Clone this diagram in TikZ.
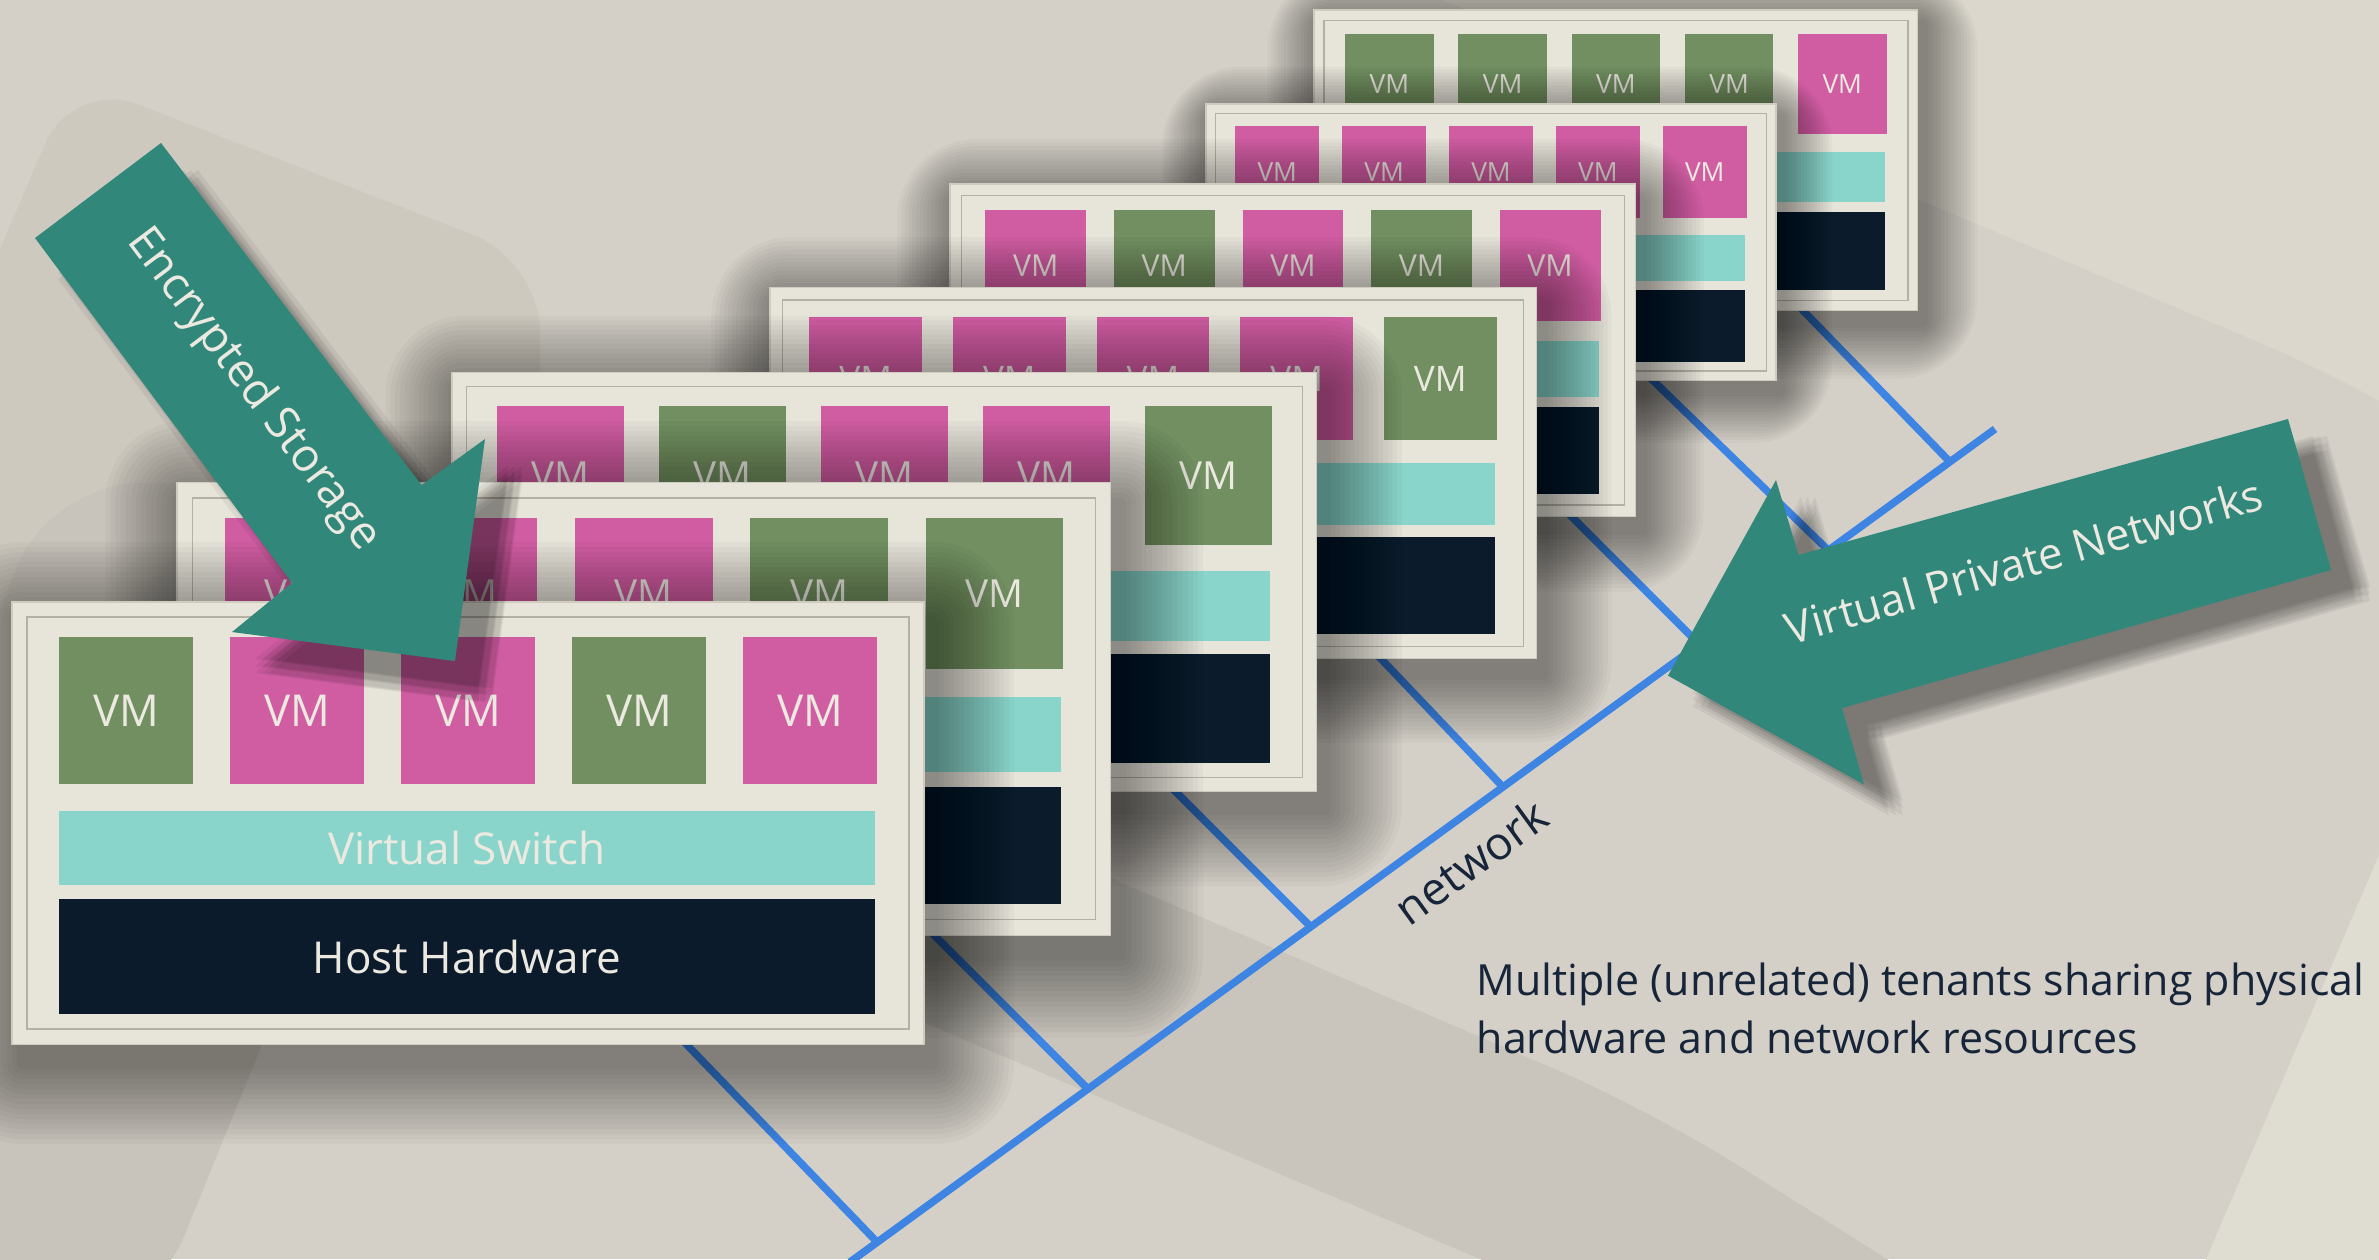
\documentclass[tikz,border=0pt]{standalone}
\usepackage{fontspec}
\setmainfont{Open Sans}
\usepackage{xcolor}

\definecolor{slatebg}{HTML}{D4D0C8}
\definecolor{blobgray}{HTML}{CDC9BF}
\definecolor{lowgray}{HTML}{C8C4BB}
\definecolor{bandgray}{HTML}{C9C5BC}
\definecolor{paleedge}{HTML}{DBD7CD}
\definecolor{creamedge}{HTML}{DFDCD1}
\definecolor{framecream}{HTML}{E7E4D9}
\definecolor{framerim}{HTML}{CFCBBF}
\definecolor{framegroove}{HTML}{B4B0A4}
\definecolor{vmgreen}{HTML}{718F61}
\definecolor{vmpink}{HTML}{D05DA2}
\definecolor{switchteal}{HTML}{8AD5CB}
\definecolor{hostnavy}{HTML}{0C1B2C}
\definecolor{labelcream}{HTML}{ECE9E0}
\definecolor{netblue}{HTML}{3D84E3}
\definecolor{arrowteal}{HTML}{30877A}
\definecolor{inkblue}{HTML}{17253A}

% one tenant host: #1 name, #2 top left corner, #3 xscale, #4 yscale, #5 VM font size, #6 VM colours
\newcommand{\tenant}[6]{%
  \begin{scope}[shift={#2}, xscale=#3, yscale=#4]
    % soft shadow
    \foreach \k in {1,...,16}
      \fill[black, opacity=0.028, rounded corners=\k*0.5mm]
        (10-\k*5, 20-\k*5) rectangle (922+\k*5, 462+\k*5);
    % frame
    \fill[framecream, draw=framerim, line width=0.3pt] (0,0) rectangle (912,442);
    \draw[framegroove, line width=0.4pt] (15,15) rectangle (897,427);
    % virtual machines
    \foreach \c [count=\i from 0] in {#6} {
      \fill[\c] (47+171*\i, 35) rectangle ++(134, 147);
      \node[vmlabel, font=\fontsize{#5}{#5}\selectfont] (#1-vm\i) at (114+171*\i, 108.5) {VM};
    }
    % switch and hardware
    \fill[switchteal] (47,209) rectangle (863,283);
    \fill[hostnavy] (47,297) rectangle (863,412);
    \coordinate (#1-switch) at (455,246);
    \coordinate (#1-host) at (455,354.5);
  \end{scope}
}

\newcommand{\cryptpath}{(35,238) -- (161,143) -- (421.5,485) -- (485,439) -- (455,661) -- (232,632) -- (292,583) -- cycle}
\newcommand{\vpnpath}{(2288,419) -- (2331,570) -- (1842,708) -- (1864,784.5) -- (1668,675.6) -- (1776,480) -- (1798.5,555) -- cycle}

\begin{document}
\begin{tikzpicture}[x=0.01cm, y=-0.01cm]
  % styles
  \tikzset{vmlabel/.style={text=labelcream, inner sep=0pt}}
  \tikzset{barlabel/.style={text=labelcream, font=\fontsize{12.5}{15}\selectfont, inner sep=0pt}}
  \tikzset{netline/.style={netblue, line width=0.75mm}}
  \tikzset{arrowlabel/.style={text=labelcream, inner sep=0pt}}
  \tikzset{captiontext/.style={text=inkblue, font=\fontsize{12.2}{15}\selectfont, inner sep=0pt, anchor=base west}}

  \useasboundingbox (0,0) rectangle (2379,1259);
  \clip (0,0) rectangle (2379,1259);

  % 1. background
  \fill[slatebg] (0,0) rectangle (2379,1259);
  \fill[paleedge, rounded corners=8mm] (1300,-60) -- (2500,-60) -- (2500,470) -- (2330,372) -- cycle;
  \fill[blobgray, rounded corners=7mm] (-30,319) -- (73,79) -- (540,261) -- (540,700) -- (-30,700) -- cycle;
  \fill[lowgray, rounded corners=9mm] (-60,1320) -- (-60,760) -- (50,483) -- (480,483) -- (442,602) -- (150,1320) -- cycle;
  \fill[bandgray, rounded corners=10mm] (650,680) -- (1650,1110) -- (2000,1330) -- (1647,1330) -- (650,906) -- cycle;
  \fill[creamedge] (2379,855) -- (2195,1285) -- (2450,1285) -- (2450,855) -- cycle;

  % 2. network
  \coordinate (trunk-lo) at (850,1262);
  \coordinate (trunk-hi) at (1995,429);
  \foreach \n/\jx/\jy/\bx/\by in {1/877/1242/663/1020, 2/1088/1089/915/916, 3/1311/927/1160/776,
      4/1503/787/1365/642, 5/1699/644/1558/503, 6/1828/550/1637/365, 7/1950/462/1788/295} {
    \coordinate (join\n) at (\jx,\jy);
    \coordinate (tap\n) at (\bx,\by);
  }
  \draw[netline] (trunk-lo) -- (trunk-hi)
    node[pos=0.521, sloped, below, inner sep=2mm, text=inkblue, font=\fontsize{13}{15}\selectfont] (netname) {network};
  \foreach \n in {1,...,7}
    \draw[netline] (tap\n) -- (join\n);

  % 3. tenant hosts, back to front
  \tenant{p7}{(1314,10)}{0.662}{0.68}{7.5}{vmgreen,vmgreen,vmgreen,vmgreen,vmpink}
  \tenant{p6}{(1206,104)}{0.625}{0.625}{7.5}{vmpink,vmpink,vmpink,vmpink,vmpink}
  \tenant{p5}{(950,184)}{0.752}{0.752}{8.6}{vmpink,vmgreen,vmpink,vmgreen,vmpink}
  \tenant{p4}{(770,287.5)}{0.84}{0.84}{10}{vmpink,vmpink,vmpink,vmpink,vmgreen}
  \tenant{p3}{(452,372.5)}{0.948}{0.948}{11}{vmpink,vmgreen,vmpink,vmpink,vmgreen}
  \tenant{p2}{(177,482.5)}{1.024}{1.024}{11}{vmpink,vmpink,vmpink,vmgreen,vmgreen}
  \tenant{p1}{(12,602)}{1}{1}{12.5}{vmgreen,vmpink,vmpink,vmgreen,vmpink}
  \node[barlabel] (switch-text) at (p1-switch) {Virtual Switch};
  \node[barlabel] (host-text) at (p1-host) {Host Hardware};

  % 4. caption
  \node[captiontext] (caption1) at (1476,995.5) {Multiple (unrelated) tenants sharing physical};
  \node[captiontext] (caption2) at (1476,1053) {hardware and network resources};

  % 5. block arrows with their shadows
  \foreach \dx in {-7,0,7}
    \foreach \dy in {-7,0,7} {
      \fill[black, opacity=0.055, shift={(30+\dx,34+\dy)}] \cryptpath;
      \fill[black, opacity=0.055, shift={(32+\dx,24+\dy)}] \vpnpath;
    }
  \fill[arrowteal] \cryptpath;
  \fill[arrowteal] \vpnpath;
  \node[arrowlabel, rotate=-53, font=\fontsize{13}{15}\selectfont] (crypt-text) at (253,390) {Encrypted Storage};
  \node[arrowlabel, rotate=16, font=\fontsize{12.5}{15}\selectfont] (vpn-text) at (2024,561) {Virtual Private Networks};
\end{tikzpicture}
\end{document}
